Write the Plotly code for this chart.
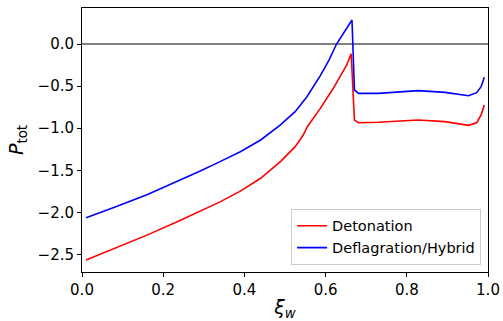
import plotly.graph_objects as go

# Detonation (red)
det_x = [0.01, 0.08, 0.16, 0.24, 0.30, 0.34, 0.39, 0.44, 0.49, 0.525, 0.545, 0.555,
         0.587, 0.619, 0.652, 0.663, 0.671, 0.681, 0.73, 0.78, 0.828, 0.894, 0.93,
         0.952, 0.972, 0.983, 0.991]
det_y = [-2.565, -2.43, -2.27, -2.10, -1.967, -1.875, -1.748, -1.595, -1.39, -1.219,
         -1.081, -0.982, -0.764, -0.526, -0.249, -0.115, -0.903, -0.935, -0.93, -0.915,
         -0.903, -0.922, -0.948, -0.966, -0.935, -0.843, -0.724]

# Deflagration/Hybrid (blue)
def_x = [0.01, 0.08, 0.16, 0.24, 0.29, 0.34, 0.39, 0.44, 0.488, 0.525, 0.554, 0.587,
         0.609, 0.627, 0.646, 0.665, 0.671, 0.681, 0.73, 0.78, 0.828, 0.894, 0.93,
         0.952, 0.972, 0.983, 0.991]
def_y = [-2.063, -1.94, -1.79, -1.62, -1.51, -1.397, -1.28, -1.14, -0.962, -0.804,
         -0.626, -0.375, -0.185, 0.0, 0.145, 0.285, -0.546, -0.586, -0.586, -0.57,
         -0.554, -0.574, -0.598, -0.614, -0.578, -0.507, -0.395]

y_ticks = [0.0, -0.5, -1.0, -1.5, -2.0, -2.5]
x_ticks = [0.0, 0.2, 0.4, 0.6, 0.8, 1.0]

FONT = "DejaVu Sans"

fig = go.Figure()
fig.add_trace(go.Scatter(x=det_x, y=det_y, mode="lines", name="Detonation",
                         line=dict(color="red", width=1.6)))
fig.add_trace(go.Scatter(x=def_x, y=def_y, mode="lines", name="Deflagration/Hybrid",
                         line=dict(color="blue", width=1.6)))

fig.update_layout(
    width=503, height=321,
    margin=dict(l=82, r=15, t=8, b=49, autoexpand=False),
    paper_bgcolor="white", plot_bgcolor="white",
    font=dict(family=FONT, color="black", size=15),
    showlegend=True,
    legend=dict(x=0.983, y=0.027, xanchor="right", yanchor="bottom",
                bgcolor="rgba(255,255,255,0.8)", bordercolor="#cccccc", borderwidth=1,
                font=dict(family=FONT, size=14.5), tracegroupgap=0),
    xaxis=dict(range=[0, 1], tickvals=x_ticks, tickformat=".1f", automargin=False,
               showgrid=False, zeroline=False,
               showline=True, linecolor="black", linewidth=1, mirror=True,
               ticks="outside", ticklen=4, tickcolor="black", tickwidth=1,
               tickfont=dict(size=15),
               title=dict(text="<i>ξ<sub>w</sub></i>", font=dict(size=19), standoff=9)),
    yaxis=dict(range=[-2.708, 0.428], tickvals=y_ticks, tickformat=".1f", automargin=False,
               showgrid=False, zeroline=True, zerolinecolor="gray", zerolinewidth=1.5,
               showline=True, linecolor="black", linewidth=1, mirror=True,
               ticks="outside", ticklen=4, tickcolor="black", tickwidth=1,
               tickfont=dict(size=15),
               title=dict(text="<i>P</i><sub>tot</sub>", font=dict(size=19), standoff=8)),
)

fig.write_html("out.html", config={"displayModeBar": False},
               post_script="document.body.style.margin='0';document.body.style.padding='0';")
